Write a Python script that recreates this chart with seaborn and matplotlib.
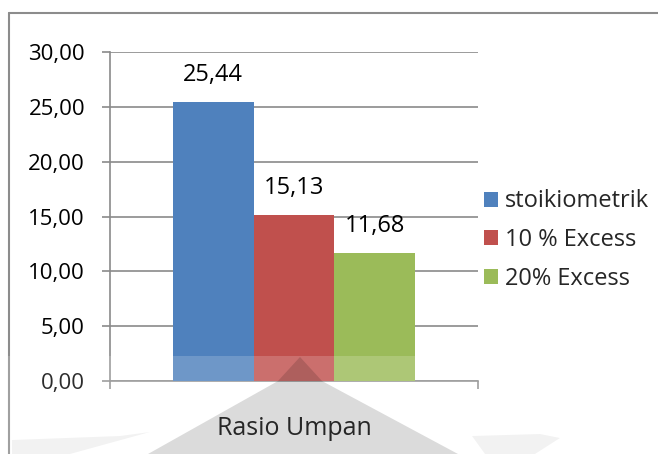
import matplotlib
matplotlib.use("Agg")
import matplotlib.pyplot as plt
from matplotlib.patches import Polygon, Rectangle
from matplotlib.lines import Line2D
from matplotlib.ticker import FuncFormatter, FixedLocator
import seaborn as sns
import pandas as pd

# Data
kategori = ["Rasio Umpan"]
seri = ["stoikiometrik", "10 % Excess", "20% Excess"]
nilai = [25.44, 15.13, 11.68]
warna = ["#4F81BD", "#C0504D", "#9BBB59"]
y_ticks = [0, 5, 10, 15, 20, 25, 30]

df = pd.DataFrame({
    "kategori": kategori * len(seri),
    "seri": seri,
    "nilai": nilai,
})

sns.set_theme(style="white")
plt.rcParams["font.family"] = ["Open Sans", "DejaVu Sans"]
FS_TICK = 16
FS_NUM = 17
FS_LEG = 17
FS_CAT = 18

W, H = 658, 454
fig = plt.figure(figsize=(W / 100, H / 100), dpi=100)
fig.patch.set_facecolor("white")

def px_box(x0, y0, x1, y1):
    return [x0 / W, 1 - y1 / H, (x1 - x0) / W, (y1 - y0) / H]

ax = fig.add_axes(px_box(110, 52, 478, 381))
ax.set_facecolor("none")

sns.barplot(data=df, x="kategori", y="nilai", hue="seri", hue_order=seri,
            palette=warna, width=0.66, gap=0, saturation=1, ax=ax,
            zorder=3, linewidth=0)

def koma(v, _=None):
    return f"{v:.2f}".replace(".", ",")

# value labels above each bar
for cont in ax.containers:
    for bar in cont:
        h = bar.get_height()
        ax.annotate(koma(h), (bar.get_x() + bar.get_width() / 2, h),
                    xytext=(0, 19.5), textcoords="offset points",
                    ha="center", va="center", fontsize=FS_NUM, color="black")

grid_c = "#8a8a8a"
ax.set_ylim(0, 30)
ax.set_xlim(-0.5, 0.5)
ax.yaxis.set_major_locator(FixedLocator(y_ticks))
ax.yaxis.set_major_formatter(FuncFormatter(koma))
ax.grid(axis="y", color=grid_c, linewidth=1.2, zorder=0)
ax.set_axisbelow(True)
for s in ["top", "right"]:
    ax.spines[s].set_visible(False)
for s in ["left", "bottom"]:
    ax.spines[s].set_color(grid_c)
    ax.spines[s].set_linewidth(1.2)
ax.tick_params(axis="y", direction="out", length=6, width=1.2, color=grid_c,
               pad=12, labelsize=FS_TICK, labelcolor="black", left=True)
ax.set_xticks([0], kategori, fontsize=FS_CAT, color="black")
ax.xaxis.set_minor_locator(FixedLocator([-0.5, 0.5]))
ax.tick_params(axis="x", which="minor", direction="out", length=6, width=1.2,
               color=grid_c, bottom=True)
ax.tick_params(axis="x", which="major", length=0, pad=25)
ax.set_xlabel("")
ax.set_ylabel("")

handles, labels = ax.get_legend_handles_labels()
ax.legend(handles, labels, loc="center left",
          bbox_to_anchor=(484 / W, 1 - 240 / H), bbox_transform=fig.transFigure,
          frameon=False, fontsize=FS_LEG, handlelength=0.6, handleheight=0.6,
          handletextpad=0.3, labelspacing=0.62, borderpad=0, borderaxespad=0)

# overlay in pixel coordinates: chart frame and watermark
ov = fig.add_axes([0, 0, 1, 1], zorder=5)
ov.set_xlim(0, W)
ov.set_ylim(H, 0)
ov.axis("off")
ov.patch.set_alpha(0)
ov.add_line(Line2D([8.5, 8.5], [12.5, H], color="#8c8c8c", lw=1.5, zorder=1))
ov.add_line(Line2D([8.5, W], [12.5, 12.5], color="#8c8c8c", lw=1.5, zorder=1))
ov.add_patch(Rectangle((0, 356), W, H - 356, facecolor="white", alpha=0.18,
                       edgecolor="none", zorder=2))
ov.add_patch(Polygon([(300, 357), (322, 381), (458, 454), (148, 454), (278, 381)],
                     closed=True, facecolor="black", alpha=0.14,
                     edgecolor="none", zorder=3))
ov.add_patch(Polygon([(12, 440), (120, 436), (150, 432), (70, 454), (12, 454)],
                     closed=True, facecolor="black", alpha=0.05,
                     edgecolor="none", zorder=3))
ov.add_patch(Polygon([(472, 436), (540, 434), (560, 438), (535, 454), (485, 454)],
                     closed=True, facecolor="black", alpha=0.05,
                     edgecolor="none", zorder=3))

fig.savefig("out.png", dpi=100, facecolor="white")
